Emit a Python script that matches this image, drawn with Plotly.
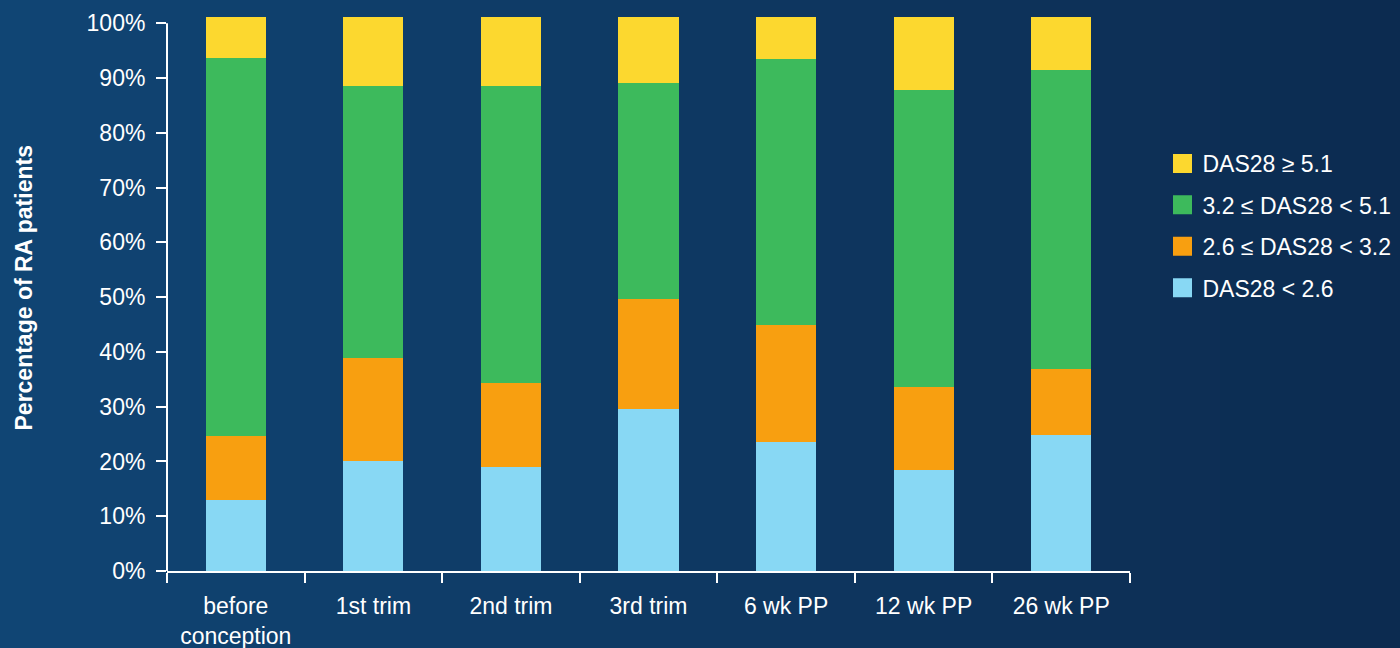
import plotly.graph_objects as go

# Disease activity (DAS28) distribution per visit, % of RA patients
categories = ["before<br>conception", "1st trim", "2nd trim", "3rd trim",
              "6 wk PP", "12 wk PP", "26 wk PP"]
das_low = [12.9, 20.0, 18.9, 29.5, 23.6, 18.5, 24.9]          # DAS28 < 2.6
das_low_mod = [11.7, 18.8, 15.5, 20.2, 21.3, 15.1, 12.0]      # 2.6 ≤ DAS28 < 3.2
das_moderate = [69.0, 49.8, 54.2, 39.4, 48.5, 54.2, 54.5]     # 3.2 ≤ DAS28 < 5.1
das_high = [7.7, 12.6, 12.6, 12.0, 7.7, 13.3, 9.7]            # DAS28 ≥ 5.1

series = [
    ("DAS28 < 2.6", das_low, "#88D8F4"),
    ("2.6 ≤ DAS28 < 3.2", das_low_mod, "#F89F10"),
    ("3.2 ≤ DAS28 < 5.1", das_moderate, "#3DBA5C"),
    ("DAS28 ≥ 5.1", das_high, "#FCD82F"),
]

y_ticks = list(range(0, 101, 10))
y_tick_text = ["%d%%" % v for v in y_ticks]
FONT = "Arial, 'Liberation Sans', sans-serif"

W, H = 1400, 648
ML, MR, MT, MB = 167, 270, 17, 77
PW, PH = W - ML - MR, H - MT - MB

fig = go.Figure()
for name, vals, color in series:
    fig.add_trace(go.Bar(
        x=categories, y=vals, name=name, legendgroup=name,
        marker=dict(color=color, line=dict(width=0)),
        showlegend=False, hoverinfo="skip",
    ))

# legend entries with larger square swatches, top to bottom
for name, vals, color in reversed(series):
    fig.add_trace(go.Scatter(
        x=[None], y=[None], mode="markers", name=name, legendgroup=name,
        marker=dict(symbol="square", size=16, color=color,
                    line=dict(color=color, width=3)),
        showlegend=True,
    ))

# horizontal blue gradient background
shapes = []
c0 = (16, 69, 116)
c1 = (12, 43, 80)
n = 140
for i in range(n):
    t = (i + 0.5) / n
    col = tuple(round(a + (b - a) * t) for a, b in zip(c0, c1))
    px0 = W * i / n
    px1 = W * (i + 1) / n + 0.6
    shapes.append(dict(
        type="rect", xref="paper", yref="paper", layer="below",
        x0=(px0 - ML) / PW, x1=(px1 - ML) / PW,
        y0=-0.3, y1=1.2,
        fillcolor="rgb(%d,%d,%d)" % col, line=dict(width=0),
    ))
# y axis line from 0% to 100%
shapes.append(dict(
    type="line", xref="paper", yref="y", x0=0, x1=0, y0=0, y1=100,
    line=dict(color="white", width=2), layer="above",
))

fig.update_layout(
    width=W, height=H,
    margin=dict(l=ML, r=MR, t=MT, b=MB, autoexpand=False),
    barmode="stack", bargap=0.563,
    paper_bgcolor="rgb(14,56,98)", plot_bgcolor="rgba(0,0,0,0)",
    font=dict(family=FONT, size=23, color="white"),
    shapes=shapes,
    showlegend=True,
    legend=dict(
        x=(1162.5 - ML) / PW, xanchor="left",
        y=(H - MB - 142) / PH, yanchor="top",
        traceorder="grouped", tracegroupgap=8.5,
        font=dict(family=FONT, size=23, color="white"),
        bgcolor="rgba(0,0,0,0)",
    ),
    xaxis=dict(
        type="category", tickson="boundaries",
        showline=True, linecolor="white", linewidth=2,
        ticks="outside", ticklen=10, tickwidth=2, tickcolor="white",
        showgrid=False, zeroline=False,
        tickfont=dict(family=FONT, size=23, color="white"),
        ticklabelstandoff=13,
    ),
    yaxis=dict(
        range=[0, 101.15], tickmode="array",
        tickvals=y_ticks, ticktext=y_tick_text,
        showline=False, ticks="outside", ticklen=10, tickwidth=2,
        tickcolor="white", showgrid=False, zeroline=False,
        tickfont=dict(family=FONT, size=23, color="white"),
        ticklabelstandoff=6,
    ),
    annotations=[dict(
        text="<b>Percentage of RA patients</b>", textangle=-90,
        xref="paper", yref="paper", x=(23 - ML) / PW, y=(H - MB - 288.5) / PH,
        xanchor="center", yanchor="middle", showarrow=False,
        font=dict(family=FONT, size=23, color="white"),
    )],
)

fig.write_html("out.html")
